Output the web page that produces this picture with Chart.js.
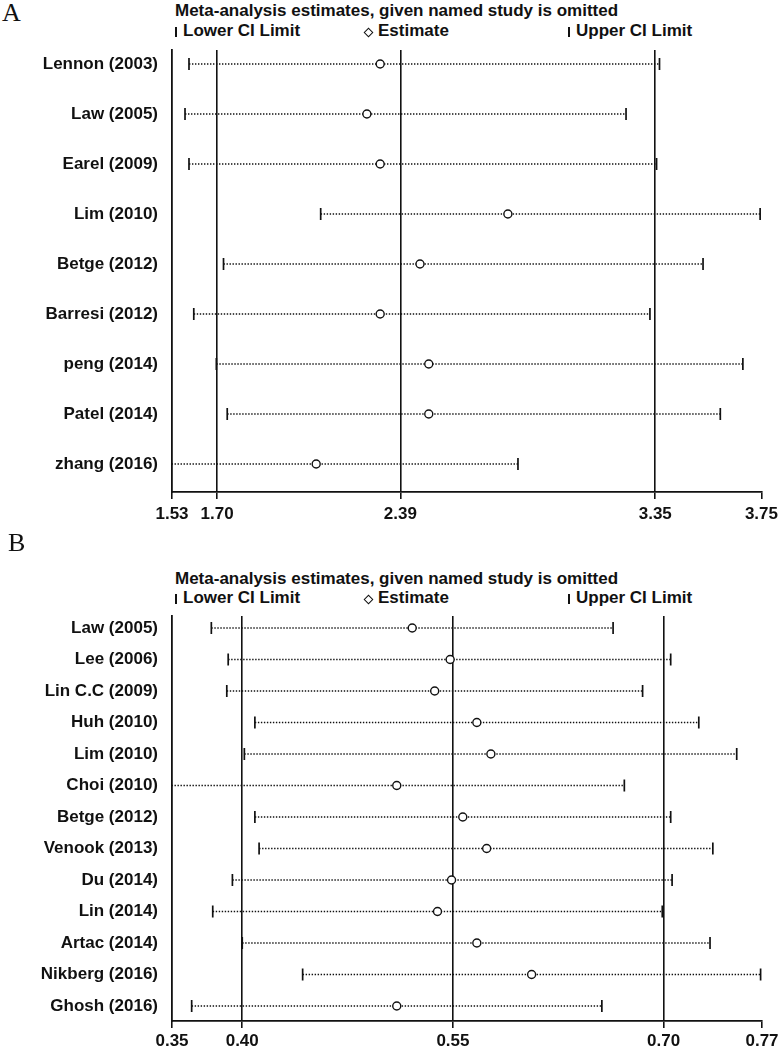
<!DOCTYPE html>
<html>
<head>
<meta charset="utf-8">
<script src="https://cdn.jsdelivr.net/npm/chart.js@4.4.0/dist/chart.umd.min.js"></script>
<style>
  body { margin: 0; background: #fff; }
  #page { position: relative; width: 783px; height: 1051px; overflow: hidden; background: #fff; }
  canvas { position: absolute; left: 0; }
  .txt { position: absolute; font: bold 17px "Liberation Sans", Arial, sans-serif; line-height: 20px; color: #111; white-space: nowrap; }
  .panel { position: absolute; font: 26px "Liberation Serif", "Times New Roman", serif; line-height: 30px; color: #111; }
  .bar { position: absolute; width: 1.6px; height: 10px; background: #111; }
  .dia { position: absolute; width: 5px; height: 5px; border: 1.2px solid #111; transform: rotate(45deg); }
</style>
</head>
<body>
<div id="page">
  <div class="panel" style="left:2px;top:-2px">A</div>
  <div class="txt" style="left:175px;top:1px">Meta-analysis estimates, given named study is omitted</div>
  <span class="bar" style="left:175px;top:27px"></span>
  <div class="txt" style="left:183px;top:21px">Lower CI Limit</div>
  <span class="dia" style="left:365px;top:29px"></span>
  <div class="txt" style="left:378px;top:21px">Estimate</div>
  <span class="bar" style="left:568px;top:27px"></span>
  <div class="txt" style="left:576px;top:21px">Upper CI Limit</div>
  <canvas id="chartA" width="783" height="530" style="top:0"></canvas>

  <div class="panel" style="left:8px;top:528px">B</div>
  <div class="txt" style="left:175px;top:569px">Meta-analysis estimates, given named study is omitted</div>
  <span class="bar" style="left:175px;top:594px"></span>
  <div class="txt" style="left:183px;top:588px">Lower CI Limit</div>
  <span class="dia" style="left:365px;top:596px"></span>
  <div class="txt" style="left:378px;top:588px">Estimate</div>
  <span class="bar" style="left:568px;top:594px"></span>
  <div class="txt" style="left:576px;top:588px">Upper CI Limit</div>
  <canvas id="chartB" width="783" height="491" style="top:560px"></canvas>
</div>
<script>
// Painel A
const studiesA = ['Lennon (2003)', 'Law (2005)', 'Earel (2009)', 'Lim (2010)', 'Betge (2012)',
                  'Barresi (2012)', 'peng (2014)', 'Patel (2014)', 'zhang (2016)'];
const lowerA = [1.594, 1.579, 1.594, 2.090, 1.724, 1.612, 1.697, 1.738, 1.517];
const estA   = [2.314, 2.264, 2.314, 2.795, 2.464, 2.314, 2.497, 2.497, 2.073];
const upperA = [3.366, 3.240, 3.355, 3.745, 3.530, 3.330, 3.680, 3.595, 2.833];
const ticksA   = [1.53, 1.70, 2.39, 3.35, 3.75];
const overallA = [1.70, 2.39, 3.35];

// Painel B
const studiesB = ['Law (2005)', 'Lee (2006)', 'Lin C.C (2009)', 'Huh (2010)', 'Lim (2010)', 'Choi (2010)',
                  'Betge (2012)', 'Venook (2013)', 'Du (2014)', 'Lin (2014)', 'Artac (2014)',
                  'Nikberg (2016)', 'Ghosh (2016)'];
const lowerB = [0.378, 0.390, 0.389, 0.409, 0.4015, 0.3475, 0.409, 0.412, 0.393, 0.379, 0.400, 0.443, 0.364];
const estB   = [0.521, 0.548, 0.537, 0.567, 0.577, 0.510, 0.557, 0.574, 0.549, 0.539, 0.567, 0.606, 0.510];
const upperB = [0.664, 0.705, 0.685, 0.725, 0.752, 0.672, 0.705, 0.735, 0.706, 0.699, 0.733, 0.769, 0.656];
const ticksB   = [0.35, 0.40, 0.55, 0.70, 0.77];
const overallB = [0.40, 0.55, 0.70];

const FONT = { family: '"Liberation Sans", Arial, sans-serif', size: 17, weight: 'bold' };
const INK = '#111';
const CLIP = { left: 0, top: 10, right: 10, bottom: 10 };

function forest(id, studies, lower, est, upper, ticks, overall, cfg) {
  const pts = arr => arr.map((v, i) => ({ x: v, y: i }));
  // linha pontilhada de cada estudo (IC)
  const ciLines = studies.map((s, i) => ({
    data: [{ x: lower[i], y: i }, { x: upper[i], y: i }],
    showLine: true, pointRadius: 0, borderColor: INK, borderWidth: 1.4,
    borderDash: [1.4, 1.6], clip: CLIP, order: 2
  }));

  new Chart(document.getElementById(id), {
    type: 'scatter',
    data: {
      datasets: [
        { data: pts(est), pointStyle: 'circle', pointRadius: 4, backgroundColor: '#fff',
          borderColor: INK, borderWidth: 1.4, order: 0 },
        { data: pts(lower).concat(pts(upper)), pointStyle: 'line', rotation: 90, pointRadius: 6,
          borderColor: INK, borderWidth: 1.7, clip: CLIP, order: 1 },
        ...ciLines
      ]
    },
    options: {
      responsive: false, animation: false, events: [],
      layout: { padding: { left: 0, right: 21, top: cfg.top, bottom: 0 } },
      plugins: { legend: { display: false }, tooltip: { enabled: false } },
      scales: {
        x: {
          type: 'linear', min: ticks[0], max: ticks[ticks.length - 1],
          afterBuildTicks: sc => { sc.ticks = ticks.map(v => ({ value: v })); },
          afterFit: sc => { sc.height = cfg.xh; },
          grid: {
            color: ctx => (ctx.tick && overall.includes(ctx.tick.value)) ? INK : 'rgba(0,0,0,0)',
            lineWidth: 1.6, tickColor: INK, tickLength: 7, tickWidth: 1.6
          },
          border: { display: true, color: INK, width: 1.8 },
          ticks: { autoSkip: false, maxRotation: 0, padding: cfg.tp, color: INK, font: FONT,
                   callback: v => v.toFixed(2) }
        },
        y: {
          type: 'linear', reverse: true, min: cfg.ymin, max: cfg.ymax,
          afterBuildTicks: sc => { sc.ticks = studies.map((s, i) => ({ value: i })); },
          afterFit: sc => { sc.width = 172; },
          grid: { display: false, drawTicks: false },
          border: { display: true, color: INK, width: 1.8 },
          ticks: { padding: 14, color: INK, font: FONT, callback: v => studies[v] }
        }
      }
    }
  });
}

forest('chartA', studiesA, lowerA, estA, upperA, ticksA, overallA,
       { top: 50, xh: 38, tp: 5, ymin: -0.28, ymax: 8.56 });
forest('chartB', studiesB, lowerB, estB, upperB, ticksB, overallB,
       { top: 56, xh: 30, tp: 3, ymin: -0.381, ymax: 12.476 });
</script>
</body>
</html>
